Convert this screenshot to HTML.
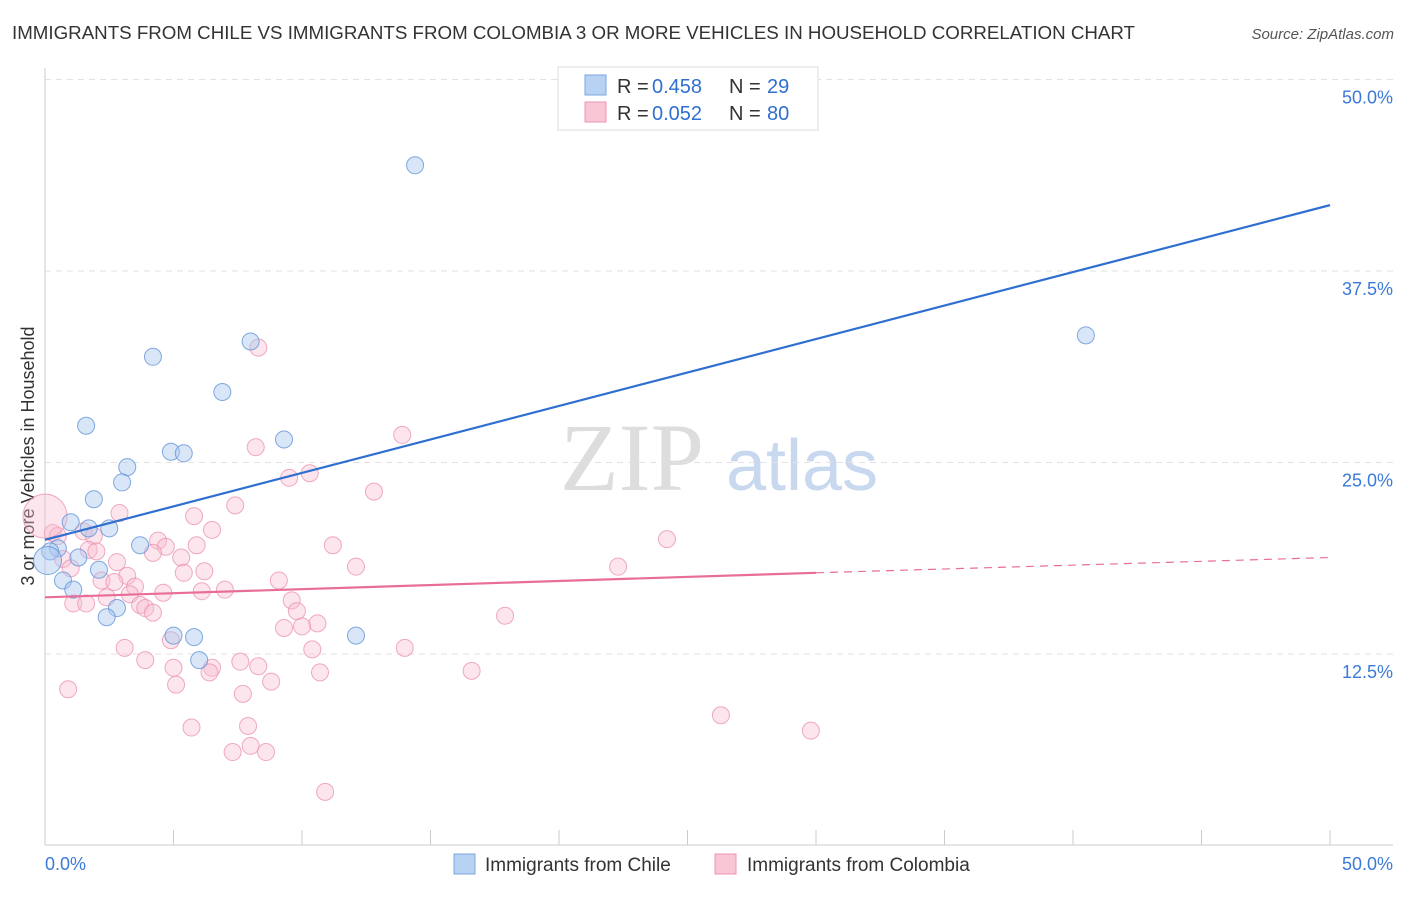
<!DOCTYPE html>
<html><head><meta charset="utf-8"><style>
body{margin:0;background:#fff;font-family:"Liberation Sans",sans-serif}
</style></head><body>
<svg id="c" width="1406" height="892" xmlns="http://www.w3.org/2000/svg" style="font-family:'Liberation Sans',sans-serif">
<text x="12" y="39" font-size="18" fill="#333" textLength="1123" lengthAdjust="spacingAndGlyphs">IMMIGRANTS FROM CHILE VS IMMIGRANTS FROM COLOMBIA 3 OR MORE VEHICLES IN HOUSEHOLD CORRELATION CHART</text>
<text x="1394" y="39" font-size="15" fill="#555" font-style="italic" text-anchor="end">Source: ZipAtlas.com</text>
<text x="632" y="490" font-size="96" fill="#ddd" font-family="Liberation Serif" text-anchor="middle">ZIP</text>
<text x="802" y="490" font-size="72" fill="#c8d8ef" text-anchor="middle">atlas</text>
<text transform="translate(34,456) rotate(-90)" font-size="18" fill="#333" text-anchor="middle">3 or more Vehicles in Household</text>
<g id="grid"></g><g id="pts"></g><g id="lines"></g>
<g>
<rect x="558" y="67" width="260" height="63" fill="#fff" stroke="#ddd"/>
<rect x="585" y="75" width="21" height="20" fill="#b8d2f4" stroke="#7aa6e0"/>
<rect x="585" y="102" width="21" height="20" fill="#f9c6d6" stroke="#ec94b1"/>
<text x="617" y="93" font-size="20" fill="#333">R =</text><text x="652" y="93" font-size="20" fill="#2f6fd0">0.458</text>
<text x="729" y="93" font-size="20" fill="#333">N =</text><text x="767" y="93" font-size="20" fill="#2f6fd0">29</text>
<text x="617" y="120" font-size="20" fill="#333">R =</text><text x="652" y="120" font-size="20" fill="#2f6fd0">0.052</text>
<text x="729" y="120" font-size="20" fill="#333">N =</text><text x="767" y="120" font-size="20" fill="#2f6fd0">80</text>
</g>
<g>
<rect x="454" y="854" width="21" height="20" fill="#b8d2f4" stroke="#7aa6e0"/>
<text x="485" y="871" font-size="19" fill="#333">Immigrants from Chile</text>
<rect x="715" y="854" width="21" height="20" fill="#f9c6d6" stroke="#ec94b1"/>
<text x="747" y="871" font-size="19" fill="#333">Immigrants from Colombia</text>
</g>
</svg>
<script>
const yTicks=[12.5,25,37.5,50];
const xTickLabels=["0.0%","50.0%"];
const chileX=[14.4,40.5,8.0,4.2,6.9,1.6,9.3,4.9,5.4,3.2,3.0,1.9,1.0,1.7,2.5,3.7,0.5,0.2,1.3,2.1,0.7,1.1,2.8,2.4,5.0,5.8,12.1,6.0,0.1];
const chileY=[44.4,33.3,32.9,31.9,29.6,27.4,26.5,25.7,25.6,24.7,23.7,22.6,21.1,20.7,20.7,19.6,19.4,19.2,18.8,18.0,17.3,16.7,15.5,14.9,13.7,13.6,13.7,12.1,18.6];
const colX=[27.9,8.3,13.9,8.2,10.3,9.5,12.8,7.4,2.9,5.8,6.5,0.3,1.5,1.9,0.5,24.2,4.4,4.7,11.2,5.9,1.7,2.0,4.2,5.3,0.7,2.8,1.0,22.3,12.1,6.2,5.4,3.2,9.1,2.2,2.7,3.5,7.0,6.1,4.6,3.3,2.4,9.6,1.1,1.6,3.7,3.9,4.2,9.8,17.9,10.6,10.0,9.3,4.9,10.4,3.1,14.0,3.9,7.6,8.3,5.0,6.5,6.4,10.7,16.6,8.8,5.1,0.9,7.7,26.3,5.7,7.9,29.8,8.0,7.3,8.6,10.9,0.0];
const colY=[47.8,32.5,26.8,26.0,24.3,24.0,23.1,22.2,21.7,21.5,20.6,20.4,20.5,20.2,20.2,20.0,19.9,19.5,19.6,19.6,19.3,19.2,19.1,18.8,18.7,18.5,18.1,18.2,18.2,17.9,17.8,17.6,17.3,17.3,17.2,16.9,16.7,16.6,16.5,16.4,16.2,16.0,15.8,15.8,15.7,15.5,15.2,15.3,15.0,14.5,14.3,14.2,13.4,12.8,12.9,12.9,12.1,12.0,11.7,11.6,11.6,11.3,11.3,11.4,10.7,10.5,10.2,9.9,8.5,7.7,7.8,7.5,6.5,6.1,6.1,3.5,21.5];
const chileFit=[19.95,41.8];
const colFit=[16.2,17.8,18.8];
const X=v=>45+v/50*1285, Y=v=>845.5-v/12.5*191.5;
const NS="http://www.w3.org/2000/svg";
function mk(p,t,a){const e=document.createElementNS(NS,t);for(const k in a)e.setAttribute(k,a[k]);p.appendChild(e);return e;}
const g=document.getElementById('grid');
yTicks.forEach(v=>{const l=mk(g,'line',{x1:45,x2:1393,y1:Y(v),y2:Y(v),stroke:'#e2e2e2','stroke-dasharray':'6,5'});

const t=mk(g,'text',{x:1393,y:Y(v)+24,'font-size':18,fill:'#3b7ad8','text-anchor':'end'});t.textContent=v.toFixed(1)+'%';
});
const ax=mk(g,'line',{x1:45,x2:45,y1:68,y2:845,stroke:'#ccc'});
const bx=mk(g,'line',{x1:45,x2:1393,y1:845,y2:845,stroke:'#ccc'});
for(let i=1;i<=10;i++){const tk=mk(g,'line',{x1:X(i*5),x2:X(i*5),y1:830,y2:845,stroke:'#ccc'});}
[[0,45,'start'],[1,1393,'end']].forEach(([i,x,a])=>{const t=mk(g,'text',{x:x,y:870,'font-size':18,fill:'#3b7ad8','text-anchor':a});t.textContent=xTickLabels[i];
});
const P=document.getElementById('pts');
colX.forEach((v,i)=>{const big=i===colX.length-1;const c=mk(P,'circle',{cx:X(v),cy:Y(colY[i]),r:big?22:8.5,fill:'#f7bdd0','fill-opacity':0.4,stroke:'#eb8fae','stroke-opacity':0.75});
});
chileX.forEach((v,i)=>{const big=i===chileX.length-1;const c=mk(P,'circle',{cx:X(v),cy:Y(chileY[i]),r:big?14:8.5,fill:'#a9c8f0','fill-opacity':0.45,stroke:'#5b8fd6','stroke-opacity':0.75});
});
const L=document.getElementById('lines');
const l1=mk(L,'line',{x1:X(0),y1:Y(chileFit[0]),x2:X(50),y2:Y(chileFit[1]),stroke:'#2f6fd0','stroke-width':2.2});

const l2=mk(L,'line',{x1:X(0),y1:Y(colFit[0]),x2:X(30),y2:Y(colFit[1]),stroke:'#e86d98','stroke-width':2.2});

const l3=mk(L,'line',{x1:X(30),y1:Y(colFit[1]),x2:X(50),y2:Y(colFit[2]),stroke:'#e86d98','stroke-width':1.2,'stroke-dasharray':'8,6'});

</script>
</body></html>
